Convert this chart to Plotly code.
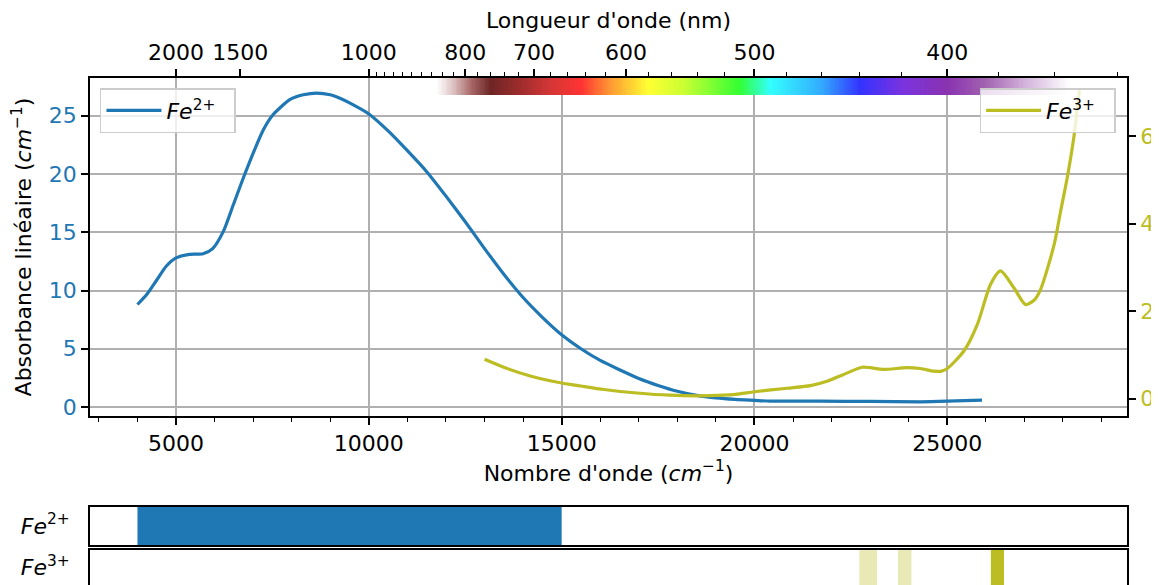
import numpy as np
import plotly.graph_objects as go

# ---------------- data ----------------
fe2_wn = [4000, 4250, 4500, 4750, 5000, 5350, 5700, 5950, 6230, 6490, 6750, 7090, 7265, 7520,
          7960, 8300, 8650, 9000, 9250, 9500, 10000, 10500, 11000, 11500, 12000, 12500, 13000,
          13500, 14000, 14500, 15000, 15500, 16000, 16500, 17000, 17500, 18000, 18500, 19000,
          19500, 20000, 20400, 21700, 23000, 24300, 25000, 25900]
fe2_abs = [8.8, 9.7, 10.9, 12.1, 12.8, 13.1, 13.15, 13.6, 15.1, 17.4, 19.7, 22.5, 23.8, 25.1,
           26.4, 26.8, 26.95, 26.8, 26.5, 26.1, 25.15, 23.7, 22.0, 20.2, 18.1, 15.9, 13.6,
           11.4, 9.4, 7.7, 6.2, 5.0, 4.0, 3.2, 2.45, 1.85, 1.35, 1.0, 0.78,
           0.65, 0.57, 0.51, 0.5, 0.48, 0.45, 0.5, 0.6]

fe3_wn = [13000, 13550, 14185, 15000, 15500, 16100, 16950, 17800, 18850, 19500, 20000, 20850,
          21450, 21880, 22300, 22790, 23000, 23350, 23950, 24300, 24650, 24850, 25000, 25430,
          25780, 26120, 26380, 26730, 27030, 27250, 27420, 27770, 27940, 28110, 28290, 28390, 28430]
fe3_abs = [0.90, 0.70, 0.52, 0.36, 0.29, 0.21, 0.13, 0.08, 0.07, 0.10, 0.16, 0.24,
           0.30, 0.40, 0.55, 0.72, 0.71, 0.67, 0.71, 0.69, 0.63, 0.63, 0.69, 1.09,
           1.70, 2.61, 2.92, 2.53, 2.15, 2.25, 2.50, 3.52, 4.29, 5.05, 6.03, 6.80, 7.05]

bottom_ticks = [5000, 10000, 15000, 20000, 25000]
bottom_labels = ['5000', '10000', '15000', '20000', '25000']
left_ticks = [0, 5, 10, 15, 20, 25]
right_ticks = [0, 2, 4, 6]
top_major_nm = [2000, 1500, 1000, 800, 700, 600, 500, 400]
top_minor_nm = [980, 960, 940, 920, 900, 880, 860, 840, 820, 780, 760, 740, 720, 680, 660,
                640, 620, 580, 560, 540, 520, 480, 460, 440, 420, 380, 360, 340]

fe2_band_start = [4000]
fe2_band_end = [15000]
fe3_band_start = [22720, 23720, 26130]
fe3_band_end = [23180, 24070, 26470]
fe3_band_alpha = [0.33, 0.33, 1.0]

spectrum_nm = [850, 820, 790, 760, 720, 680, 645, 615, 580, 550, 510, 490, 460, 440, 420, 400,
               385, 370, 355]
spectrum_colors = ['#ffffff', '#dcc0c0', '#a86868', '#6e2525', '#9c2c2c', '#d43636', '#ff3333',
                   '#ff9933', '#ffff33', '#c8ff33', '#33ff33', '#33ffff', '#33aaff', '#3333ff',
                   '#7a33e0', '#8a33b0', '#a262b0', '#d4b4dc', '#ffffff']

# ---------------- styles ----------------
BLUE = '#1f77b4'
OLIVE = '#bcbd22'
FONT = 'DejaVu Sans'
FS = 22
XR = [2769, 29660]
YL = [-0.77, 28.24]
YR = [-0.395, 7.33]

fig = go.Figure()

# spectrum gradient
sp_wn = [1e7 / n for n in spectrum_nm]
wmin, wmax = min(sp_wn), max(sp_wn)
cscale = sorted([[(w - wmin) / (wmax - wmin), c] for w, c in zip(sp_wn, spectrum_colors)])
edges = np.linspace(wmin, wmax, 500)
centers = (edges[:-1] + edges[1:]) / 2
fig.add_trace(go.Heatmap(x=edges, y=[26.78, YL[1]], z=[centers], colorscale=cscale,
                         zmin=wmin, zmax=wmax, showscale=False, hoverinfo='skip',
                         xaxis='x', yaxis='y'))

fig.add_trace(go.Scatter(x=fe2_wn, y=fe2_abs, mode='lines',
                         line=dict(color=BLUE, width=3.2, shape='spline', smoothing=0.7),
                         name='<i>Fe</i><sup>2+</sup>  ', legend='legend', xaxis='x', yaxis='y'))
fig.add_trace(go.Scatter(x=fe3_wn, y=fe3_abs, mode='lines',
                         line=dict(color=OLIVE, width=3.2, shape='spline', smoothing=0.7),
                         name='<i>Fe</i><sup>3+</sup>  ', legend='legend2', xaxis='x', yaxis='y2'))

# invisible trace so the top (wavelength) axis is drawn
fig.add_trace(go.Scatter(x=[1e7 / n for n in top_major_nm], y=[0] * len(top_major_nm), mode='markers',
                         marker=dict(opacity=0), hoverinfo='skip', showlegend=False,
                         xaxis='x2', yaxis='y'))

# bands
fig.add_trace(go.Bar(orientation='h', y=[0] * len(fe2_band_start),
                     x=[e - s for s, e in zip(fe2_band_start, fe2_band_end)], base=fe2_band_start,
                     width=1, marker=dict(color=BLUE, line=dict(width=0)), showlegend=False,
                     xaxis='x3', yaxis='y3'))
fig.add_trace(go.Bar(orientation='h', y=[0] * len(fe3_band_start),
                     x=[e - s for s, e in zip(fe3_band_start, fe3_band_end)], base=fe3_band_start,
                     width=1, marker=dict(color=[f'rgba(188,189,34,{a})' for a in fe3_band_alpha],
                                          line=dict(width=0)), showlegend=False,
                     xaxis='x4', yaxis='y4'))

axis_common = dict(showline=True, linecolor='black', linewidth=1.8, automargin=False,
                   tickfont=dict(family=FONT, size=FS, color='black'))

main_bottom = 169 / 507
p2 = [40 / 507, 78 / 507]
p3 = [0, 35.3 / 507]

fig.update_layout(
    width=1151, height=577,
    margin=dict(l=82, r=32, t=70, b=0),
    paper_bgcolor='white', plot_bgcolor='white',
    font=dict(family=FONT, size=FS, color='black'),
    barmode='overlay',
    xaxis=dict(domain=[0, 1], anchor='y', range=XR, tickmode='array', tickvals=bottom_ticks,
               ticktext=bottom_labels,
               ticks='outside', ticklen=7, tickwidth=1.6, tickcolor='black', mirror=True,
               showgrid=True, gridcolor='#b0b0b0', gridwidth=1.6, zeroline=False,
               minor=dict(tickmode='linear', tick0=0, dtick=1000, ticks='outside', ticklen=4,
                          tickwidth=1.2, tickcolor='black', showgrid=False),
               title=dict(text="Nombre d'onde (<i>cm</i><sup>−1</sup>)", standoff=10,
                          font=dict(family=FONT, size=FS)),
               **axis_common),
    xaxis2=dict(overlaying='x', side='top', anchor='y', range=XR, tickmode='array',
                tickvals=[1e7 / n for n in top_major_nm], ticktext=[str(n) for n in top_major_nm],
                ticks='outside', ticklen=7, tickwidth=1.6, tickcolor='black', showgrid=False,
                zeroline=False,
                minor=dict(tickmode='array', tickvals=[1e7 / n for n in top_minor_nm], ticks='outside',
                           ticklen=4, tickwidth=1.2, tickcolor='black', showgrid=False),
                title=dict(text="Longueur d'onde (nm)", standoff=6, font=dict(family=FONT, size=FS)),
                **axis_common),
    yaxis=dict(domain=[main_bottom, 1], anchor='x', range=YL, tickmode='array', tickvals=left_ticks,
               ticks='outside', ticklen=7, tickwidth=1.6, tickcolor='black', mirror=True,
               showgrid=True, gridcolor='#b0b0b0', gridwidth=1.6, zeroline=False,
               title=dict(text="Absorbance linéaire (<i>cm</i><sup>−1</sup>)", standoff=16,
                          font=dict(family=FONT, size=FS)),
               **{**axis_common, 'tickfont': dict(family=FONT, size=FS, color=BLUE)}),
    yaxis2=dict(overlaying='y', side='right', anchor='x', range=YR, tickmode='array',
                tickvals=right_ticks, ticks='outside', ticklen=7, tickwidth=1.6, tickcolor='black',
                showgrid=False, zeroline=False,
                **{**axis_common, 'tickfont': dict(family=FONT, size=FS, color=OLIVE)}),
    xaxis3=dict(domain=[0, 1], anchor='y3', range=XR, showticklabels=False, ticks='',
                showgrid=False, zeroline=False, mirror=True, **axis_common),
    yaxis3=dict(domain=p2, anchor='x3', range=[-0.5, 0.5], tickmode='array', tickvals=[0],
                ticktext=['<i>Fe</i><sup>2+</sup>'], ticks='', ticklabelstandoff=14,
                showgrid=False, zeroline=False, mirror=True, **axis_common),
    xaxis4=dict(domain=[0, 1], anchor='y4', side='top', range=XR, showticklabels=False, ticks='',
                showgrid=False, zeroline=False, mirror=False, **axis_common),
    yaxis4=dict(domain=p3, anchor='x4', range=[-0.5, 0.5], tickmode='array', tickvals=[0],
                ticktext=['<i>Fe</i><sup>3+</sup>'], ticks='', ticklabelstandoff=14,
                showgrid=False, zeroline=False, mirror=True, **axis_common),
    legend=dict(x=0.0096, y=0.98, xanchor='left', yanchor='top', bgcolor='rgba(255,255,255,0.8)',
                bordercolor='#cccccc', borderwidth=1.5, font=dict(family=FONT, size=FS),
                itemwidth=55),
    legend2=dict(x=0.989, y=0.98, xanchor='right', yanchor='top', bgcolor='rgba(255,255,255,0.8)',
                 bordercolor='#cccccc', borderwidth=1.5, font=dict(family=FONT, size=FS),
                 itemwidth=55),
)

fig.write_html("out.html")
